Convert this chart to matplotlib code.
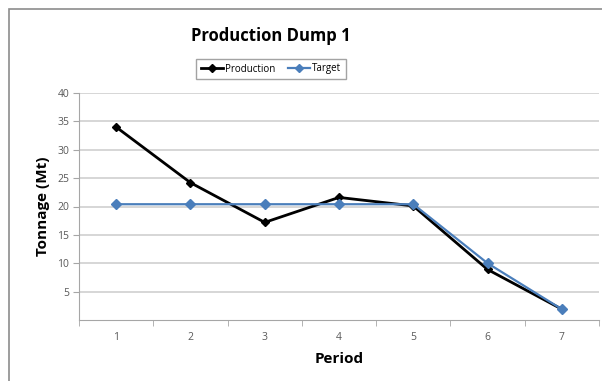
import matplotlib.pyplot as plt
from matplotlib.patches import Rectangle
from matplotlib.lines import Line2D

periods = [1, 2, 3, 4, 5, 6, 7]
production = [34.0, 24.2, 17.2, 21.6, 20.1, 8.9, 1.9]
target = [20.4, 20.4, 20.4, 20.4, 20.4, 10.0, 1.9]
y_ticks = [5, 10, 15, 20, 25, 30, 35, 40]

W, H = 602, 381
fig = plt.figure(figsize=(W / 100, H / 100), dpi=100)
plt.rcParams['font.family'] = ['Open Sans', 'DejaVu Sans']

# outer chart border (runs off the right/bottom edges)
fig.patches.append(Rectangle((9 / W, -0.1), 1.2, 1 - 9 / H + 0.1,
                             transform=fig.transFigure, fill=False,
                             edgecolor='#8c8c8c', linewidth=1.2))

ax = fig.add_axes([79 / W, 1 - 320 / H, 520 / W, 227 / H])

ax.plot(periods, production, color='black', linewidth=2, marker='D',
        markersize=4, label='Production', zorder=3)
ax.plot(periods, target, color='#4a7ebb', linewidth=1.6, marker='D',
        markersize=5.5, label='Target', zorder=4)

ax.set_xlim(0.5, 7.5)
ax.set_ylim(0, 40)
ax.set_yticks(y_ticks)
ax.set_xticks(periods)
ax.set_xticks([p + 0.5 for p in [0] + periods], minor=True)
ax.tick_params(axis='x', which='major', length=0, labelsize=7.5,
               labelcolor='#595959', pad=9)
ax.tick_params(axis='x', which='minor', length=4, color='#a6a6a6')
ax.tick_params(axis='y', length=4, color='#a6a6a6', labelsize=7.5,
               labelcolor='#595959', pad=3)
ax.grid(axis='y', color='#d0d0d0', linewidth=1.2)
ax.set_axisbelow(True)
for side in ['top', 'right']:
    ax.spines[side].set_visible(False)
for side in ['left', 'bottom']:
    ax.spines[side].set_color('#a6a6a6')

ax.set_xlabel('Period', fontsize=11, fontweight='bold', labelpad=6)
ax.set_ylabel('Tonnage (Mt)', fontsize=11, fontweight='bold', labelpad=5)

fig.text(271 / W, 1 - 36 / H, 'Production Dump 1', fontsize=12,
         fontweight='bold', ha='center', va='center')

handles = [Line2D([], [], color='black', linewidth=2, marker='D', markersize=4),
           Line2D([], [], color='#4a7ebb', linewidth=1.6, marker='D', markersize=4)]
fig.legend(handles, ['Production', 'Target'], loc='center',
           bbox_to_anchor=(271 / W, 1 - 69 / H), ncol=2, fontsize=7,
           frameon=True, fancybox=False, edgecolor='#8c8c8c',
           handlelength=2.2, handletextpad=0.2, columnspacing=1.4,
           borderpad=0.5)

fig.savefig('out.png', dpi=100)
